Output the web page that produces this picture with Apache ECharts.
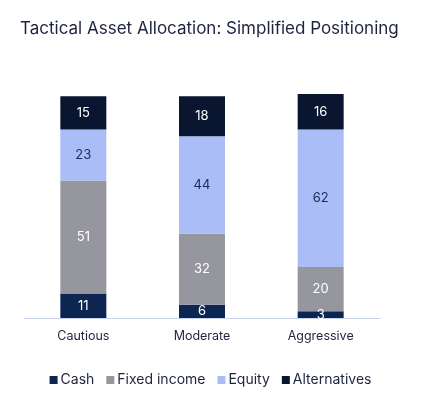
<!DOCTYPE html>
<html><head><meta charset="utf-8">
<script src="https://cdn.jsdelivr.net/npm/echarts@6/dist/echarts.min.js"></script>
<style>html,body{margin:0;padding:0;background:#fff}#c{width:421px;height:406px}</style>
</head><body><div id="c"></div>
<script>
const categories = ['Cautious', 'Moderate', 'Aggressive'];
const cash = [11, 6, 3];
const fixedIncome = [51, 32, 20];
const equity = [23, 44, 62];
const alternatives = [15, 18, 16];
const seriesNames = ['Cash', 'Fixed income', 'Equity', 'Alternatives'];
const colors = ['#0c2651', '#96969e', '#aabdf6', '#0a1630'];
const labelColors = ['#ffffff', '#ffffff', '#1d2a55', '#ffffff'];
const dataSets = [cash, fixedIncome, equity, alternatives];

const chart = echarts.init(document.getElementById('c'));
chart.setOption({
  animation: false,
  textStyle: { fontFamily: 'Inter, "Noto Sans", sans-serif' },
  title: {
    text: 'Tactical Asset Allocation: Simplified Positioning',
    left: 15, top: 15,
    textStyle: { fontSize: 17, fontWeight: 'normal', color: '#1e2340', fontFamily: 'Inter, sans-serif' }
  },
  legend: {
    bottom: 14, left: 'center',
    itemWidth: 8, itemHeight: 8, itemGap: 12,
    icon: 'rect',
    textStyle: { fontSize: 14, color: '#1e2340', padding: [0, 0, 0, -2] },
    data: seriesNames
  },
  grid: { left: 24, right: 41, top: 94, bottom: 88, containLabel: false },
  xAxis: {
    type: 'category', data: categories,
    axisLine: { lineStyle: { color: '#c7d3ec', width: 1 } },
    axisTick: { show: false },
    axisLabel: { color: '#1e2340', fontSize: 12.5, margin: 12 }
  },
  yAxis: { type: 'value', min: 0, max: 101, show: false, splitLine: { show: false } },
  series: dataSets.map((d, i) => ({
    name: seriesNames[i], type: 'bar', stack: 'total', data: d,
    barWidth: 46,
    itemStyle: { color: colors[i] },
    label: { show: true, position: 'inside', color: labelColors[i], fontSize: 13 }
  }))
});
</script></body></html>
